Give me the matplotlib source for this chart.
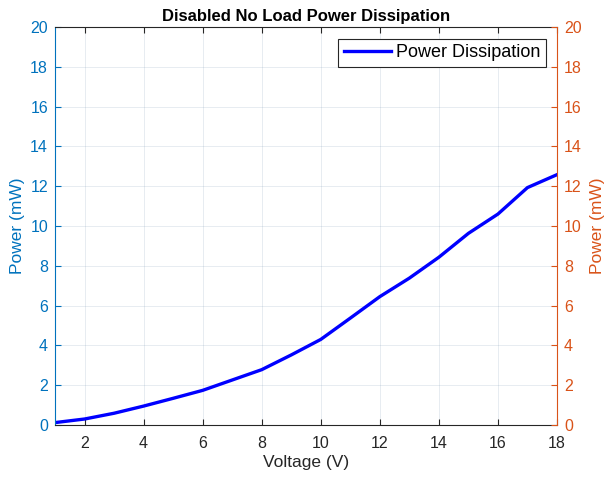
import numpy as np
import matplotlib.pyplot as plt

plt.rcParams['font.family'] = ['Liberation Sans', 'DejaVu Sans']

# Messwerte
voltage = [1, 2, 3, 4, 5, 6, 7, 8, 9, 10, 11, 12, 13, 14, 15, 16, 17, 18]
power_mw = [0.12, 0.3, 0.59, 0.95, 1.34, 1.74, 2.26, 2.78, 3.52, 4.3,
            5.37, 6.45, 7.38, 8.43, 9.63, 10.6, 11.93, 12.58]

blue = '#0072BD'
orange = '#D95319'
dark = '#262626'

fig = plt.figure(figsize=(6.09, 4.78), dpi=100)
ax = fig.add_axes([0.0903, 0.1109, 0.8243, 0.8326])

ax.plot(voltage, power_mw, color='#0000FF', linewidth=2.4, label='Power Dissipation')
ax.set_xlim(1, 18)
ax.set_ylim(0, 20)
ax.set_xticks(range(2, 19, 2))
ax.set_yticks(range(0, 21, 2))
ax.grid(True, color='#6080a0', alpha=0.15, linewidth=0.7)
ax.tick_params(axis='x', direction='in', colors=dark, labelsize=11.5, top=True,
               length=4, pad=8)
ax.tick_params(axis='y', direction='in', colors=blue, labelsize=11.5, length=4, pad=5)
ax.set_xlabel('Voltage (V)', fontsize=12.5, color=dark, labelpad=3)
ax.set_ylabel('Power (mW)', fontsize=12.5, color=blue, labelpad=4)
ax.set_title('Disabled No Load Power Dissipation', fontsize=12, fontweight='bold', pad=4)
ax.spines['left'].set_color(blue)
ax.spines['bottom'].set_color(dark)
ax.spines['top'].set_color(dark)
ax.spines['right'].set_visible(False)

ax2 = ax.twinx()
ax2.set_ylim(0, 20)
ax2.set_yticks(range(0, 21, 2))
ax2.tick_params(axis='y', direction='in', colors=orange, labelsize=11.5, length=4, pad=5)
ax2.set_ylabel('Power (mW)', fontsize=12.5, color=orange, labelpad=6)
ax2.spines['right'].set_color(orange)
for s in ['left', 'top', 'bottom']:
    ax2.spines[s].set_visible(False)

leg = ax.legend(loc='upper right', fontsize=13, fancybox=False, framealpha=1,
                edgecolor='#262626', handlelength=2.6, handletextpad=0.3,
                borderpad=0.3, borderaxespad=0, bbox_to_anchor=(0.978, 0.97))
leg.get_frame().set_linewidth(0.8)

fig.savefig('out.png', dpi=100)
